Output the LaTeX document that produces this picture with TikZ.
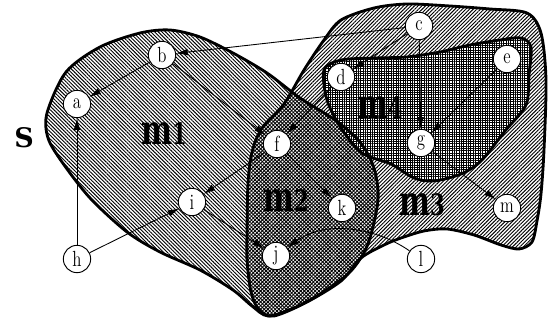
\documentclass[tikz,border=0pt]{standalone}
\usepackage{fontspec}
\newfontfamily\heavyserif{DejaVu Serif}
\usepackage{tikz}
\usetikzlibrary{positioning,arrows.meta,patterns.meta}
\newcommand{\vstretch}[1]{\scalebox{1}[1.3]{#1}}
\newcommand{\mlabel}[1]{\scalebox{1}[1.4]{m{\fontsize{18}{20}\selectfont#1}}}
\newcommand{\regionmone}{plot[smooth cycle] coordinates {(47,113) (66,72) (100,47) (140,33) (170,30) (200,37) (233,53) (267,73) (300,98) (335,120) (360,142) (374,168) (378,200) (368,244) (350,272) (320,294) (294,308) (268,316) (252,306) (233,290) (200,270) (160,252) (127,232) (90,198) (62,162) (48,138)}}
\newcommand{\regionmthree}{plot[smooth cycle] coordinates {(341,20) (374,8) (407,4) (450,6) (490,9) (527,13) (541,33) (546,80) (544,150) (541,194) (537,221) (532,242) (519,249) (501,245) (474,235) (447,229) (424,231) (401,238) (384,245) (361,258) (341,281) (307,302) (274,316) (259,310) (251,292) (247,260) (247,233) (248,183) (252,152) (262,128) (284,104) (304,70) (324,40)}}
\newcommand{\regionmfour}{plot[smooth cycle] coordinates {(324,70) (341,60) (375,58) (407,57) (440,52) (470,45) (500,40) (521,38) (531,47) (529,75) (526,105) (505,131) (481,161) (461,174) (434,181) (414,178) (391,164) (362,153) (341,128) (327,100)}}
\tikzset{
  setnode/.style={circle, draw, fill=white, line width=0.8pt, minimum size=8.2mm,
                  inner sep=0pt, font=\Large},
  setlabel/.style={font=\heavyserif\bfseries\fontsize{25}{27}\selectfont, inner sep=0pt},
  border/.style={line width=2.4pt, line join=round},
  arr/.style={-{Latex[length=3.5mm,width=2mm]}, line width=0.75pt},
  hatchone/.style={pattern={Lines[angle=-45,distance=2.2pt,line width=0.8pt]}},
  hatchthree/.style={pattern={Lines[angle=45,distance=2.2pt,line width=0.8pt]}},
  gridh/.style={pattern={Lines[angle=0,distance=2pt,line width=0.8pt]}},
  gridv/.style={pattern={Lines[angle=90,distance=2pt,line width=0.8pt]}}
}
\begin{document}
\begin{tikzpicture}[x=0.3mm, y=-0.3mm]
  \useasboundingbox (0,0) rectangle (548,322);

  % regions
  \fill[hatchone] \regionmone;
  \fill[hatchthree] \regionmthree;
  \fill[white] \regionmfour;
  \fill[gridh] \regionmfour;
  \fill[gridv] \regionmfour;
  \draw[border] \regionmone;
  \draw[border] \regionmthree;
  \draw[border] \regionmfour;

  \node[font=\heavyserif\bfseries\fontsize{23}{25}\selectfont] (S) at (24,138) {S};
  \node[setlabel] (lab1) at (164,134) {\mlabel{1}};
  \node[setlabel] (lab2) at (286,201) {\mlabel{2}};
  \node[setlabel] (lab3) at (422,205) {\mlabel{3}};
  \node[setlabel] (lab4) at (380,108) {\mlabel{4}};

  % elements
  \node[setnode] (a) at (77,104) {\vstretch{a}};
  \node[setnode] (b) at (162,55) {\vstretch{b}};
  \node[setnode] (c) at (419,26) {\vstretch{c}};
  \node[setnode] (d) at (341,77) {\vstretch{d}};
  \node[setnode] (e) at (507,59) {\vstretch{e}};
  \node[setnode] (f) at (277,144) {\vstretch{f}};
  \node[setnode] (g) at (421,143) {\vstretch{g}};
  \node[setnode] (h) at (77,259) {\vstretch{h}};
  \node[setnode] (i) at (192,202) {\vstretch{i}};
  \node[setnode] (j) at (276,256) {\vstretch{j}};
  \node[setnode] (k) at (342,208) {\vstretch{k}};
  \node[setnode] (l) at (421,259) {\vstretch{l}};
  \node[setnode] (m) at (507,208) {\vstretch{m}};

  \draw[arr] (c) -- (b);
  \draw[arr] (b) -- (a);
  \draw[arr] (b) -- (f);
  \draw[arr] (c) -- (d);
  \draw[arr] (c) -- (g);
  \draw[arr] (e) -- (g);
  \draw[arr] (d) -- (f);
  \draw[arr] (g) -- (m);
  \draw[arr] (f) -- (i);
  \draw[arr] (f) -- (k);
  \draw[arr] (h) -- (a);
  \draw[arr] (h) -- (i);
  \draw[arr] (i) -- (j);
  \draw[arr] (l) .. controls (380,230) and (328,218) .. (j);
\end{tikzpicture}
\end{document}
